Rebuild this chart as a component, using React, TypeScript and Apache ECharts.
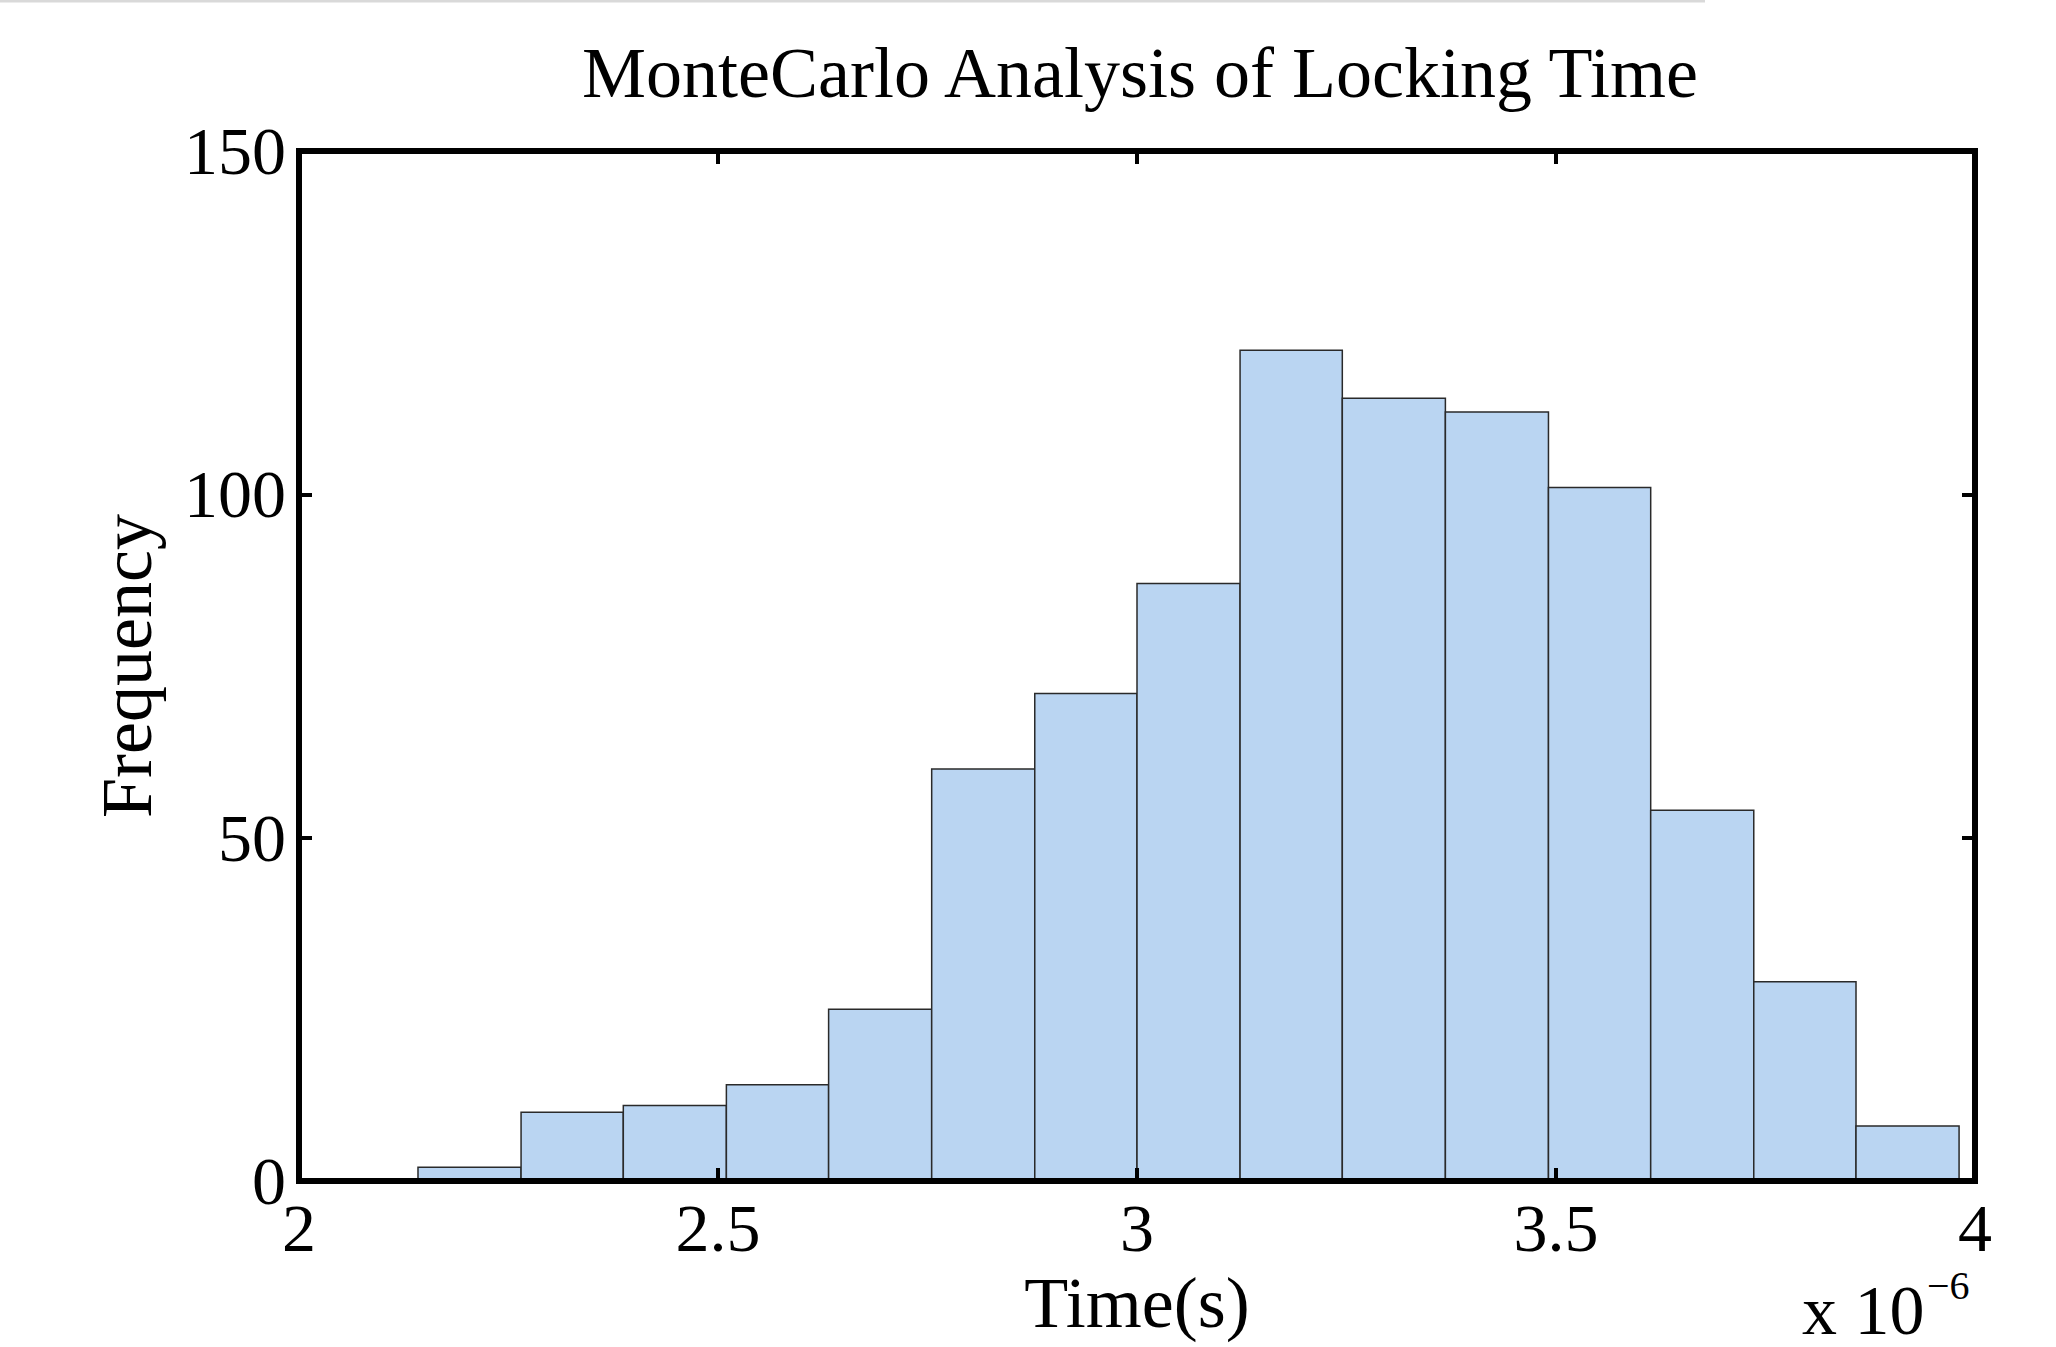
import React, { useEffect, useRef } from "react";
import * as echarts from "echarts";

// Histogram bin edges (x axis, in units of 1e-6 s)
const binEdges = [2.142, 2.265, 2.387, 2.51, 2.632, 2.755, 2.878, 3.0, 3.123, 3.245, 3.368, 3.491, 3.613, 3.736, 3.858, 3.981];
// Frequency of each bin
const counts = [2, 10, 11, 14, 25, 60, 71, 87, 121, 114, 112, 101, 54, 29, 8];

const titleText = "MonteCarlo Analysis of Locking Time";
const xName = "Time(s)";
const yName = "Frequency";
const xMin = 2;
const xMax = 4;
const xStep = 0.5;
const yMin = 0;
const yMax = 150;
const yStep = 50;

const FONT = "'Liberation Serif', 'Times New Roman', serif";

export default function App() {
  const ref = useRef<HTMLDivElement>(null);

  useEffect(() => {
    if (!ref.current) return;
    const chart = echarts.init(ref.current, null, { renderer: "svg" });

    const data = counts.map((c, i) => [binEdges[i], binEdges[i + 1], c]);

    const axisLine = { show: true, onZero: false, lineStyle: { color: "#000", width: 6, cap: "square" } };
    const axisTick = { show: true, inside: true, length: 13, lineStyle: { color: "#000", width: 4 } };
    const labelStyle = { fontFamily: FONT, fontSize: 68, color: "#000" };

    const option: any = {
      animation: false,
      backgroundColor: "#fff",
      grid: { left: 299, right: 81, top: 151, bottom: 166, containLabel: false },
      xAxis: [
        {
          type: "value",
          position: "bottom",
          min: xMin,
          max: xMax,
          interval: xStep,
          axisLine,
          axisTick,
          splitLine: { show: false },
          axisLabel: { ...labelStyle, margin: 13 },
          name: xName,
          nameLocation: "middle",
          nameGap: 67,
          nameTextStyle: { fontFamily: FONT, fontSize: 72, color: "#000" },
          z: 10,
        },
        {
          type: "value",
          position: "top",
          min: xMin,
          max: xMax,
          interval: xStep,
          axisLine,
          axisTick,
          splitLine: { show: false },
          axisLabel: { show: false },
          z: 10,
        },
      ],
      yAxis: [
        {
          type: "value",
          position: "left",
          min: yMin,
          max: yMax,
          interval: yStep,
          axisLine,
          axisTick,
          splitLine: { show: false },
          axisLabel: { ...labelStyle, margin: 13 },
          name: yName,
          nameLocation: "middle",
          nameGap: 136,
          nameTextStyle: { fontFamily: FONT, fontSize: 72, color: "#000" },
          z: 10,
        },
        {
          type: "value",
          position: "right",
          min: yMin,
          max: yMax,
          interval: yStep,
          axisLine,
          axisTick,
          splitLine: { show: false },
          axisLabel: { show: false },
          z: 10,
        },
      ],
      series: [
        {
          type: "custom",
          xAxisIndex: 0,
          yAxisIndex: 0,
          encode: { x: [0, 1], y: 2 },
          data,
          renderItem: (params: any, api: any) => {
            const p0 = api.coord([api.value(0), api.value(2)]);
            const p1 = api.coord([api.value(1), 0]);
            return {
              type: "rect",
              shape: { x: p0[0], y: p0[1], width: p1[0] - p0[0], height: p1[1] - p0[1] },
              style: { fill: "#BAD5F2", stroke: "#2a2a2a", lineWidth: 1.5 },
            };
          },
        },
      ],
      graphic: [
        {
          type: "line",
          shape: { x1: 0, y1: 1, x2: 1705, y2: 1 },
          style: { stroke: "#d9d9d9", lineWidth: 3 },
          silent: true,
        },
        {
          type: "text",
          x: 1140,
          y: 73,
          style: { text: titleText, font: `72px ${FONT}`, fill: "#000", align: "center", verticalAlign: "middle" },
        },
        {
          type: "text",
          x: 1802,
          y: 1310,
          style: { text: "x 10", font: `70px ${FONT}`, fill: "#000", align: "left", verticalAlign: "middle" },
        },
        {
          type: "text",
          x: 1927,
          y: 1285,
          style: { text: "\u22126", font: `40px ${FONT}`, fill: "#000", align: "left", verticalAlign: "middle" },
        },
      ],
    };

    chart.setOption(option);
    return () => chart.dispose();
  }, []);

  return (
    <div
      ref={ref}
      style={{ position: "fixed", left: 0, top: 0, width: 2056, height: 1347, background: "#fff" }}
    />
  );
}
